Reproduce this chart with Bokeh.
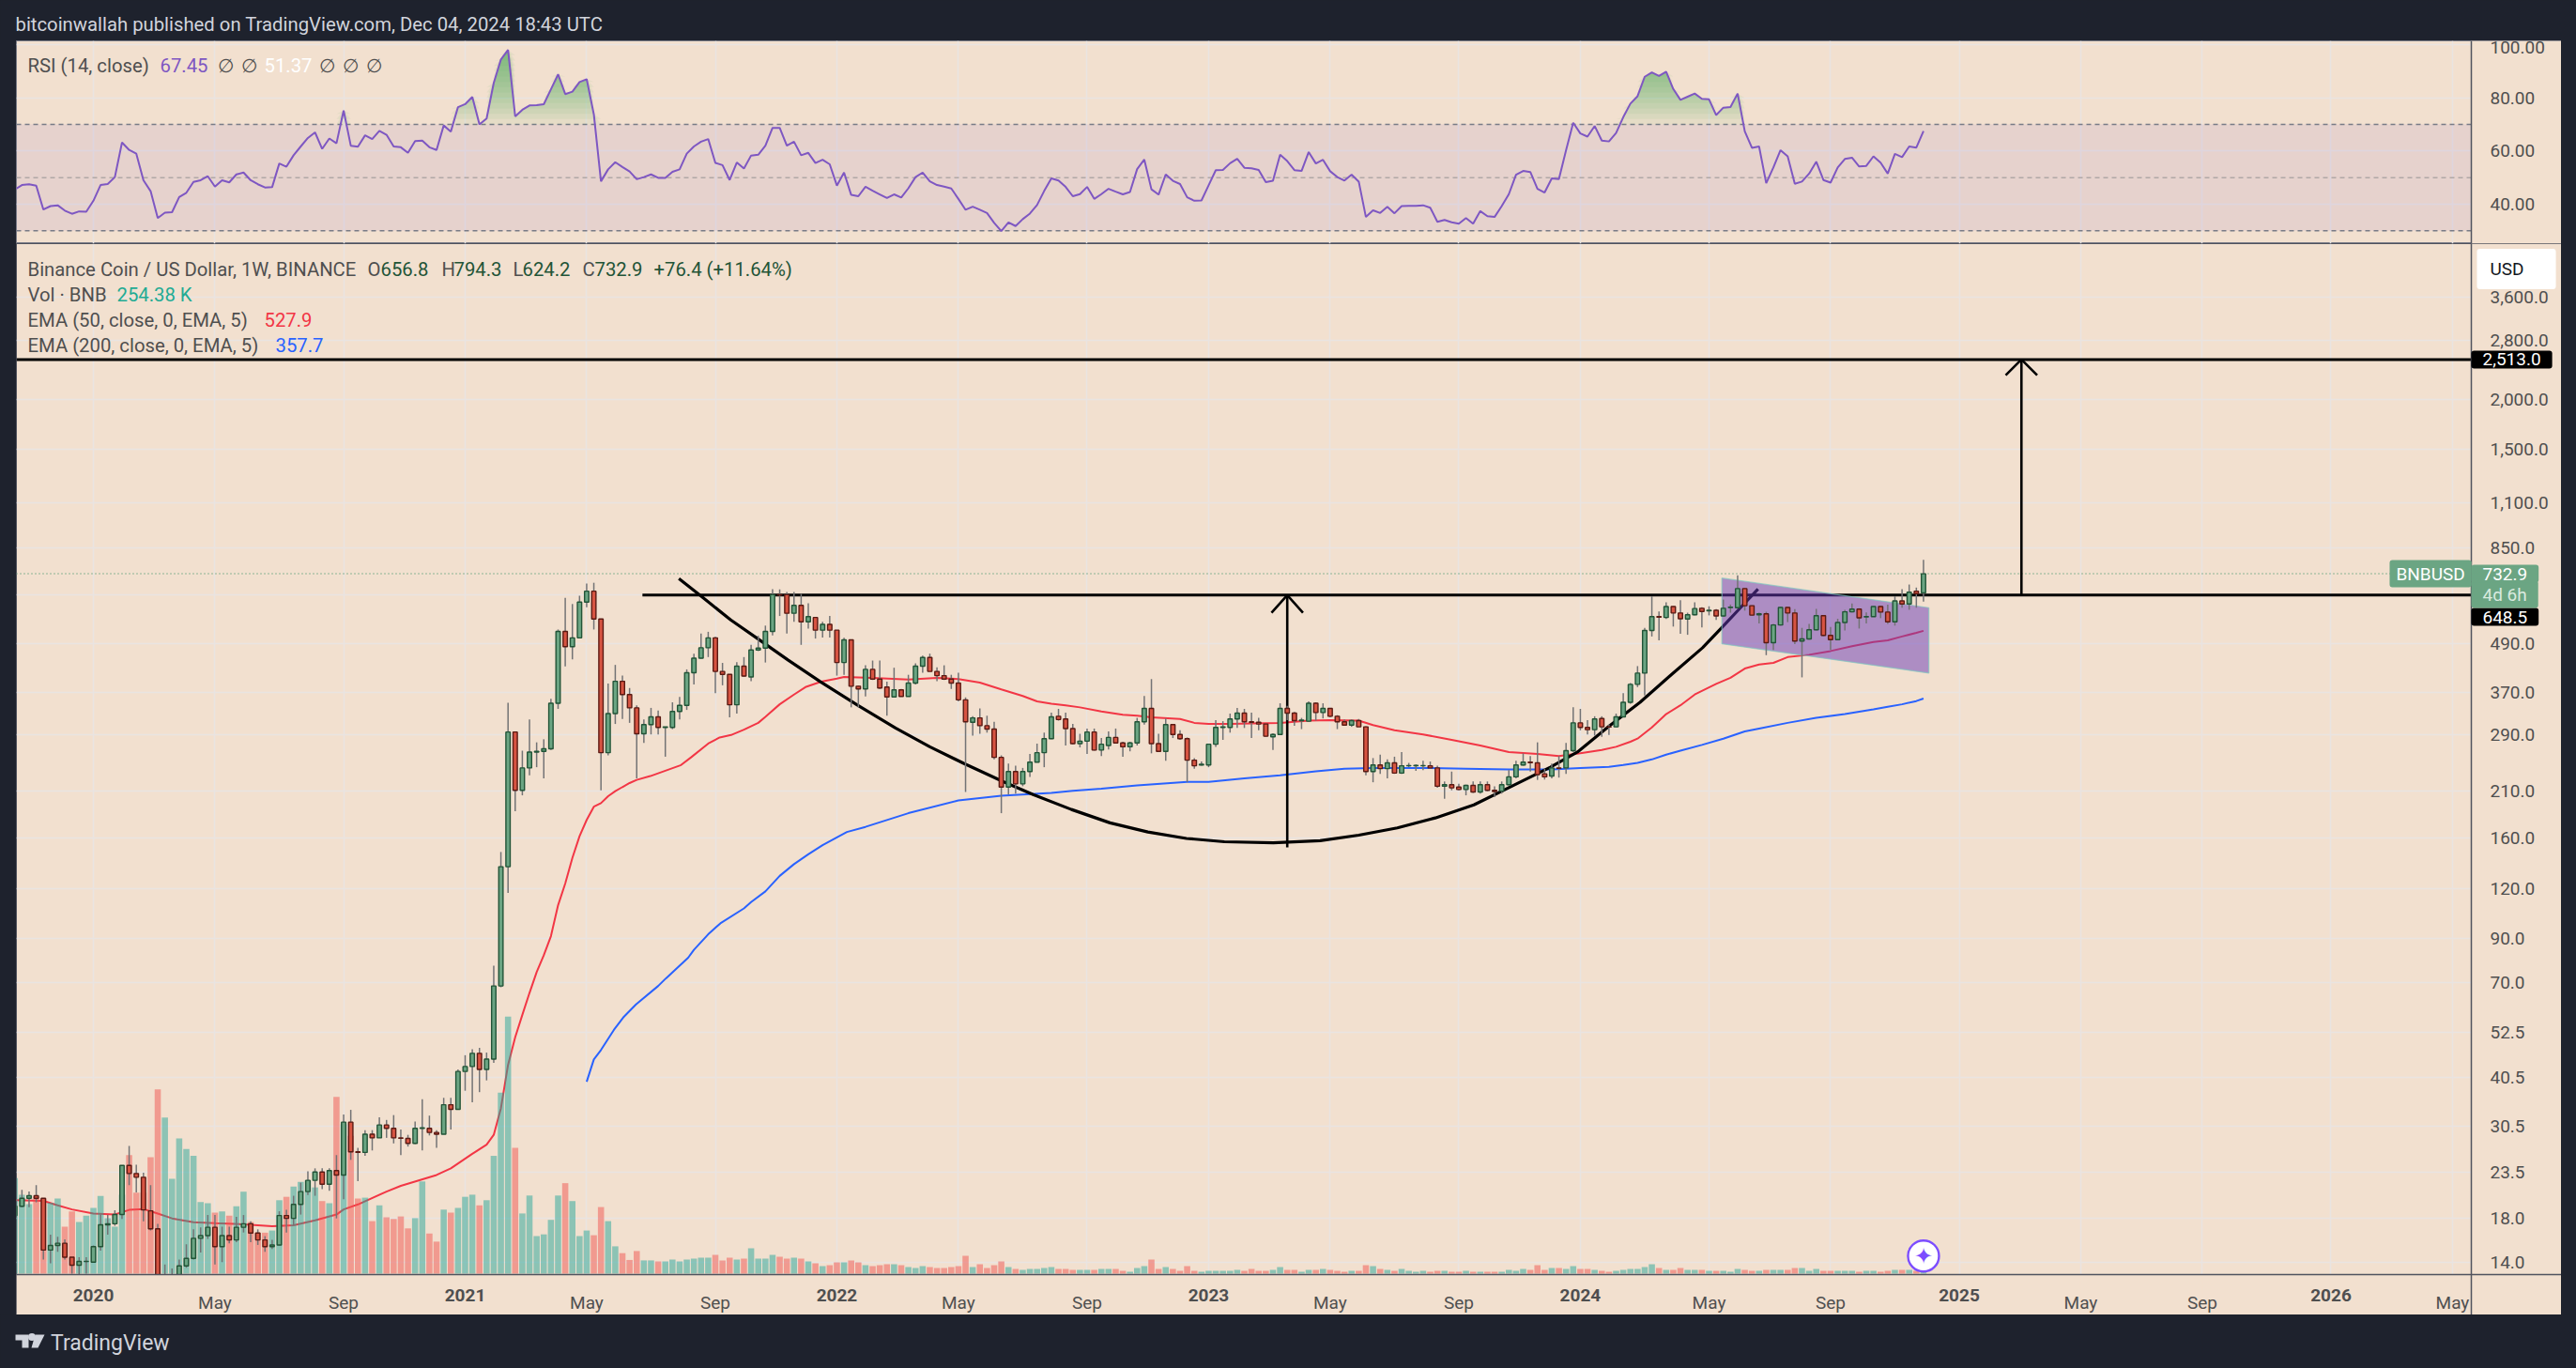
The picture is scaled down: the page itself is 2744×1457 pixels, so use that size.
import numpy as np
from bokeh.embed import file_html
from bokeh.resources import INLINE
from bokeh.layouts import column
from bokeh.models import FixedTicker, NumeralTickFormatter, Range1d, Label, Span, BoxAnnotation, LinearScale
from bokeh.plotting import figure
from bokeh.core.properties import value

# ---- weekly bars: bar 0 is the week of 2019-10-21 ----
opens = [18.3,19.3,20.2,20.5,20.2,15.0,15.4,15.6,14.4,13.75,
14.05,14.0,15.3,17.35,17.45,18.4,24.4,23.3,22.8,18.8,
16.95,10.5,11.8,12.5,13.7,14.3,16.05,16.3,17.1,15.3,
16.3,15.9,17.1,17.45,16.55,15.9,15.3,15.45,18.3,18.0,
19.5,21.0,22.4,23.5,21.9,23.7,23.1,31.3,26.4,26.3,
29.2,28.6,30.8,30.2,28.6,28.5,27.7,30.2,30.2,29.5,
29.2,34.6,33.7,41.9,43.1,46.5,42.4,45.0,68.5,136,
295,211,240,263,264,268,348,526,482,507,
623,663,565,262,328,395,366,339,292,308,
322,303,303,332,344,415,451,479,507,418,
411,345,431,405,473,478,526,650,650,584,
611,556,570,530,548,530,440,501,384,378,
423,400,382,361,376,362,391,431,453,418,
408,400,391,355,312,320,306,300,255,215,
235,219,235,248,262,284,323,318,301,276,
280,295,266,273,286,277,271,277,313,338,
276,264,308,291,284,251,244,244,275,303,
303,318,329,313,312,309,287,291,338,329,
315,314,348,330,338,323,313,307,315,304,
235,244,239,247,233,243,243,243,243,240,
216,218,215,212,217,209,218,211,210,218,
228,244,248,247,232,229,240,240,265,311,
303,299,319,304,304,322,350,388,414,529,
573,570,607,585,565,579,601,592,594,575,
604,603,673,610,579,582,493,546,604,585,
498,504,531,576,514,502,554,589,598,572,
573,607,588,556,627,616,663,656.8]
highs = [19.5,21.2,21.0,21.8,20.2,16.4,16.2,15.95,14.4,14.4,
14.4,15.4,18.4,18.35,18.85,24.4,27.3,24.5,23.4,21.8,
17.45,13.8,13.5,14.2,15.5,16.9,17.1,18.35,18.35,17.15,
17.15,18.15,18.35,17.7,16.9,16.25,15.9,18.75,18.9,20.5,
22.1,23.6,24.0,24.0,24.0,25.9,32.7,33.6,27.0,29.9,
29.9,32.2,31.7,32.6,30.0,29.1,31.4,35.7,32.5,29.9,
36.0,36.0,42.4,46.0,47.6,48.0,46.7,77.0,148,349,
296,265,317,278,283,357,532,638,616,646,
693,696,565,390,434,408,380,344,317,339,
334,304,350,361,423,463,520,525,510,439,
411,441,454,487,513,544,671,670,660,660,
653,619,572,556,575,530,507,502,385,433,
445,445,394,427,378,410,438,458,463,428,
433,410,415,360,323,338,324,313,258,246,
243,240,260,276,294,330,337,330,309,292,
301,301,285,296,301,279,279,320,363,400,
292,319,309,298,286,254,249,276,316,314,
328,339,337,330,320,310,293,348,343,331,
320,352,350,348,339,325,317,317,318,305,
254,259,252,256,263,247,245,250,249,243,
222,235,219,218,222,222,222,216,222,237,
250,261,257,278,239,246,257,277,340,337,
316,323,323,308,328,369,391,431,537,644,
590,622,608,630,586,622,605,608,598,632,
614,726,675,611,586,589,549,606,605,598,
537,549,599,578,540,566,596,618,601,587,
608,610,614,644,671,689,677,794.3]
lows = [18.2,19.2,19.2,19.75,14.2,13.9,14.85,14.2,13.1,13.05,
13.1,13.95,14.95,16.4,17.25,17.95,21.8,20.9,17.7,16.8,
9.0,9.5,11.0,12.0,13.55,14.2,14.8,16.0,13.8,14.0,
15.6,15.7,16.6,15.7,15.45,14.85,15.1,15.4,16.6,17.3,
18.4,20.6,20.5,21.3,21.1,18.0,20.1,25.2,22.3,25.8,
26.6,28.6,28.6,27.7,25.9,27.2,27.6,26.6,29.0,27.0,
29.2,30.0,33.6,37.5,35.1,37.2,39.8,44.0,68,117,
187,205,230,241,226,266,337,430,448,507,
605,532,211,258,309,318,311,226,277,291,
291,256,300,317,335,388,450,454,369,386,
321,328,405,395,470,440,514,575,520,556,
487,535,505,508,508,408,410,340,340,362,
398,378,324,360,362,362,388,415,418,395,
398,378,352,209,289,292,294,252,185,206,
207,216,228,248,241,283,315,273,275,270,
260,265,257,267,277,256,264,273,308,261,
263,250,285,282,221,239,243,241,271,282,
294,302,302,285,298,287,266,290,316,306,
300,313,315,319,321,300,306,304,304,230,
221,232,226,232,232,241,236,237,239,214,
201,211,211,205,208,207,210,203,207,217,
226,243,235,224,224.5,226,227,232,263,298,
291,289,287,290,303,322,347,382,364,511,
500,565,541,519,516,577,538,577,562,572,
586,600,593,577,551,459,473,544,555,489,
404,502,529,512,473,502,529,587,535,551,
572,568,549,544,603,596,603,624.2]
closes = [19.3,20.2,20.5,20.2,15.0,15.4,15.6,14.4,13.75,14.05,
14.06,15.3,17.35,17.45,18.4,24.4,23.3,22.8,18.9,16.95,
10.5,11.8,12.5,13.7,14.3,16.05,16.3,17.1,15.3,16.3,
15.9,17.1,17.45,16.55,15.9,15.3,15.45,18.3,18.0,19.5,
21.0,22.4,23.5,21.9,23.7,23.1,31.3,26.4,26.3,29.2,
28.6,30.8,30.2,28.6,28.55,27.7,30.2,30.3,29.5,29.2,
34.6,33.7,41.9,43.1,46.5,42.4,45.0,68.5,136,295,
211,240,263,264,268,348,526,482,507,623,
663,565,262,328,395,366,339,292,308,322,
303,304,332,344,415,451,479,507,418,411,
345,431,407,473,478,526,650,648,584,611,
556,573,530,548,530,440,501,384,378,423,
400,380,361,376,362,391,431,453,418,408,
400,391,355,313,320,306,300,255,215,235,
219,235,248,262,284,322,317,301,276,280,
295,266,275,286,277,271,277,313,338,276,
264,308,291,284,251,243,245,275,303,304,
318,329,313,312,309,288,291,338,329,315,
316,348,330,338,323,313,307,315,304,235,
244,239,247,233,243,243.2,243.5,243.2,240,216,
218,214,212,217,209,218,211,209.5,218,228,
244,248,247.5,231,228,240,239.5,265,311,303,
299,318,304,303.5,322,350,388,414,529,573,
571,607,585,566,579,600,590,594,575,601,
605,673,610,578,582,493,546,604,585,498,
504,531,576,514,502,554,589,598,569,573,
607,588,556,627,616,659,654,732.9]
volumes_m = [11.2,9.25,8.15,9.0,8.8,8.3,8.8,5.5,7.3,6.05,
6.8,7.7,9.1,6.5,5.5,9.25,13.9,9.5,9.5,13.65,
21.6,18.3,11.1,15.85,14.6,13.8,8.4,8.25,7.15,7.3,
6.8,7.9,9.6,6.05,4.8,4.8,5.05,8.6,9.0,10.2,
10.75,10.9,10.1,8.5,8.25,20.7,17.5,16.15,8.8,8.9,
6.15,8.0,6.6,6.4,6.7,5.3,6.5,10.8,4.7,3.75,
7.5,7.15,7.7,9.0,9.25,8.0,8.6,13.8,21.2,30.1,
14.75,7.05,9.15,4.4,4.6,6.3,9.15,10.6,8.5,4.4,
5.05,4.5,7.8,6.15,3.2,2.4,1.6,2.65,
1.55,1.55,1.43,1.43,1.65,1.43,1.65,1.76,1.87,1.87,
2.2,1.54,1.87,1.65,1.76,2.97,1.76,1.76,2.2,1.98,
1.76,1.87,1.76,1.43,1.21,.88,.99,1.32,1.32,1.54,
1.32,.99,.88,.99,1.1,1.1,.99,.77,.66,.88,
.77,.66,.66,.77,.88,2.09,.77,1.1,.66,.99,
1.43,.77,.55,.44,.55,.55,.66,.77,.55,.55,
.44,.44,.44,.44,.55,.55,.55,.33,.22,.66,
.88,1.65,.55,.77,.55,.33,.88,.33,.22,.33,
.33,.33,.33,.44,.33,.55,.33,.33,
.44,.77,.44,.44,.22,.44,.44,.55,.44,.33,
.22,.33,.33,.99,.88,.55,.44,.33,.55,.33,
.22,.33,.22,.33,.33,.22,.22,.33,.22,.22,
.22,.22,.22,.44,.33,.55,.44,.99,.44,.66,
.66,.55,.88,.55,.55,.44,.33,.22,.33,.44,
.55,.55,.77,1.1,.66,.44,.44,.66,.44,.44,
.44,.33,.33,.33,.22,.55,.44,.33,.33,.44,
.44,.44,.44,.66,.66,.33,.55,.33,.33,.33,
.33,.33,.22,.33,.33,.22,.33,.44,.44,.44,.33,.254]
rsi_values = [45.5,47.2,47.5,47,38,39.3,39.6,37.6,36.4,37.3,
37.2,41.3,47.2,47.6,50.2,63.2,60.4,59,49,44.9,
34.8,36.8,37,42.7,44.3,48.4,49,50.5,46.6,49,
48.2,51.2,51.9,49,47.5,46.3,46.4,55.3,54.1,58.4,
61.7,64.9,67,60.8,64.7,62.9,75.2,62,61.6,65.9,
64.5,67.6,66.1,61.7,61.4,59.3,63.7,63.9,61.4,60.4,
69.6,67.3,76.5,77.6,80.3,70,72.2,85.6,94.4,98,
73,75.5,77.1,77.2,77.6,83.2,88.8,81.4,82.3,85.9,
87,73.8,48.6,53.1,55.8,54,52.3,49.4,50.2,51.2,
49.9,49.9,52.2,53.1,59,61.7,63.5,64.5,55.5,54.7,
49.1,55.7,53.4,58.3,58.6,62,68.7,68.7,62,63.5,
58.4,59.3,55.5,56.7,55,47,51.9,43.5,43,46.6,
45.1,43.7,42.3,43.7,42.5,46,50.2,51.9,48.6,47.2,
46.6,45.9,42,37.9,39.1,37.9,36.7,33,29.9,33.2,
31.8,34.4,36.5,39.7,45,49.7,48.9,46.5,43,43.8,
46.5,42,43.8,45.8,44.7,43.7,44.6,53.2,56.8,45.6,
43.6,51.2,48.8,47.6,42.6,41.3,41.4,47.1,52.8,52.9,
55.4,57.1,53.7,53.5,52.9,48.3,48.8,58.6,56.2,52.8,
52.5,59.6,55.3,56.7,52.4,50.2,48.9,51.1,48.5,35.2,
37.7,36.7,39,36.6,39.3,39.4,39.4,39.6,38.7,33.4,
34.1,33.2,32.7,34.8,32.7,37.4,35.5,35.2,39.3,43.8,
51.1,52.5,52.1,45.8,44.4,49.7,49.4,60.3,70.6,66.6,
65.4,69.4,63.9,63.6,66.8,72.7,77.8,80.6,87.9,89.5,
88.2,89.8,83.3,79.2,80.4,81.6,79.6,79.4,73.5,76.3,
76.5,81.6,67.4,61.2,61.7,47.9,53.8,60.3,58,47.7,
48.5,51.5,56,49.1,48.1,53.8,57,57.5,54.2,54.4,
58,55.6,51.5,58.9,57.7,61.7,61.3,67.45]

ema50_weeks = [0,4,6,8,11,14,16,18,20,22,25,28,32,36,39,42,45,46,48,52,54,59,61,64,66,67,68,69,70,71,72,73,74,75,76,77,78,79,80,81,82,83,84,85,86,87,88.9,93.2,94.6,97,98.6,100.2,102,104,105,107,109,110.6,112.8,115,116,120,125,129,132,135,138,141,143,145,147,149,152,155,157,159,163,165,167,170,173,177,181,184,188,190,193,197,201,205,209,213,216,219,222,224,226,227,229,231,233,235,238,240,242,244,246,248,251,254,257,260,262,264,266,267]
ema50_values = [20,19.9,19.4,18.95,18.5,18.4,18.9,19,18.5,18,17.6,17.5,17.4,17.2,17.3,17.8,18.4,18.95,19.5,21,21.7,23.1,24,26.1,27.5,29.1,33.9,43.5,51,58,65.8,74.2,81.7,91.2,109,123.5,143,162,178,192,196,204,210,215,220,224,229,244,255,276,286,290,299,311,322,346,366,382,394,401,405,403,399,403,400,392,377,363,352,347,344,340,332,326,324,321,318,311,309,309,310,311,315,316,315,307,298,291,282,273,263,260,257,261,266,271,279,284,303,327,344,366,389,403,425,435,439,454,460,470,483,495,500,511,522,527.9]
ema200_weeks = [80,81,82,83.8,85.1,86.9,90,91.1,93,94.2,95,97,98.7,102,103,105,107,109,111,113,115,116.4,119,125,132,138,145,148,152,157,164,167,172,177,182,186,190,197,203,209,215,219,223,225,227,229,231,233,236,239,242,244,248,252,256,260,262,264,266,267]
ema200_values = [39.5,44.9,47.4,53.2,57.1,61.6,68.5,71.6,77,80.6,84.3,92.2,98.2,107,111,118,129,138,146,154,161,166,171,185,199,204.5,208,210.5,213,217,221.5,221.5,226,230,235.4,239,240,240,239,238,238,240,241.5,244,247,252,259,265,274,284,296,301,311,320,327,336,341,346,352.5,357.7]

cup_weeks = [92.9,95.9,100.15,103.9,108.2,112.7,117.8,123.2,128,132.8,138.2,142.45,147.8,153.2,158.5,163.9,169.2,176.05,182.6,188,193.4,198.7,204.1,209.4,214.8,218.6,223,227.35,231.7,236.1,238.7,241.4,243.85]
cup_prices = [713,647,562,505,446,394,345,302,271,246,222,206,189,175,166,160,157,156,158,163,170,180,194,216,241,263,305,350,410,479,536,603,671]
resistance = 648.5
target = 2513.0
resistance_start_week = 87.8
left_week, right_week = 0.23, 343.63      # left and right edge of the plotting area
gutter_week = 356.24                      # right edge of the price scale
pane_low, pane_floor, pane_high = 13.02, 10.33, 4892.0   # price at pane bottom, time-scale bottom, pane top
arrow1_week, arrow1_wing, arrow1_low, arrow1_wing_price = 178.0, 2.2, 152.0, 586.0
arrow2_week, arrow2_wing, arrow2_wing_price = 280.7, 2.2, 2296.0
flag_weeks = [238.8, 267.75, 267.75, 238.8]
flag_prices = [715, 603, 414, 490]
last_price = 732.9

price_ticks = [14,18,23.5,30.5,40.5,52.5,70,90,120,160,210,290,370,490,650,850,1100,1500,2000,2800,3600]
rsi_ticks = [40,60,80,100]
month_weeks = [28,46,80,98,132,150,184,202,237,254,289,306,341]
month_labels = ["May","Sep","May","Sep","May","Sep","May","Sep","May","Sep","May","Sep","May"]
year_weeks = [11,63,115,167,219,272,324]
year_labels = ["2020","2021","2022","2023","2024","2025","2026"]

BG = "#f2e0cf"; DARK = "#1e222d"; GRID = "#e9e4e1"; AXIS_LINE = "#50535e"
TXT = "#4f4f4f"; FONT = "Roboto"
UP, UP_B = "#6ba583", "#225437"
DN, DN_B = "#d75442", "#5b1a13"
WICK = "#737375"
FS = "19px"; LFS = "20.3px"

week = np.arange(len(closes))
o, h, l, c = map(np.array, (opens, highs, lows, closes))
x_range = Range1d(left_week, gutter_week)
all_ticks = sorted(month_weeks + year_weeks)
def week_at(px):
    return left_week + (px - 17) * (right_week - left_week) / (2632 - 17)

def style_grid(p):
    p.xgrid.ticker = FixedTicker(ticks=all_ticks)
    p.xgrid.grid_line_color = GRID; p.xgrid.grid_line_width = 1.5
    p.ygrid.grid_line_color = GRID; p.ygrid.grid_line_width = 1.5

def style_right_axis(ax):
    ax.fixed_location = right_week
    ax.major_tick_line_color = None; ax.minor_tick_line_color = None
    ax.axis_line_color = AXIS_LINE; ax.axis_line_width = 1.5
    ax.major_label_text_font = FONT; ax.major_label_text_font_size = FS
    ax.major_label_text_color = TXT; ax.major_label_standoff = 14

# ---------- header ----------
head = figure(width=2744, height=43, x_range=(0,1), y_range=(0,1), x_axis_location=None, y_axis_location=None,
              toolbar_location=None, output_backend="svg", min_border=0, outline_line_color=None,
              background_fill_color=DARK, border_fill_color=DARK)
head.grid.visible = False
head.add_layout(Label(x=16, y=18, x_units="screen", y_units="screen", text_baseline="middle",
    text="bitcoinwallah published on TradingView.com, Dec 04, 2024 18:43 UTC",
    text_color="#d1d4dc", text_font=FONT, text_font_size=LFS))

# ---------- RSI pane ----------
rsi = figure(width=2711, height=216, x_range=x_range, y_range=Range1d(25.18, 101.4), y_axis_location="right",
             x_axis_location=None, toolbar_location=None, output_backend="svg", min_border=0,
             background_fill_color=BG, border_fill_color=BG, outline_line_color="#787b86", margin=(0,0,0,17))
style_grid(rsi)
rsi.ygrid.ticker = FixedTicker(ticks=rsi_ticks)
ax = rsi.yaxis[0]; ax.ticker = FixedTicker(ticks=rsi_ticks)
ax.formatter = NumeralTickFormatter(format="0.00"); style_right_axis(ax)
rsi.add_layout(BoxAnnotation(bottom=30, top=70, fill_color="#7e57c2", fill_alpha=0.1, line_color=None, level="underlay"))
for lvl, col in ((70,"#787b86"),(50,"#b0a8a6"),(30,"#787b86")):
    rsi.add_layout(Span(location=lvl, dimension="width", line_color=col, line_dash="5 4", line_width=1.5, level="underlay"))
rv = np.array(rsi_values)
for t in range(70, 100, 2):
    rsi.varea(week, np.full(len(rv), t), np.maximum(rv, t), fill_color="#4caf50", fill_alpha=0.07)
rsi.line(week, rv, line_color="#7e57c2", line_width=2)
rsi.quad(left=[right_week], right=[gutter_week], bottom=[25.18], top=[101.4], fill_color=BG, line_color=None)
def rsi_lab(x, text, color):
    rsi.add_layout(Label(x=x-17, y=259-69, x_units="screen", y_units="screen", text=text, text_color=color,
                         text_font=FONT, text_font_size=LFS, text_baseline="middle"))
rsi_lab(29, "RSI (14, close)", TXT); rsi_lab(170, "67.45", "#7e57c2")
for px in (231, 256, 339, 364, 389):
    rsi_lab(px, "\u2205", TXT)
rsi_lab(281, "51.37", "#ffffff")

# ---------- main pane ----------
main = figure(width=2711, height=1141, x_range=x_range, y_axis_type="log", y_range=Range1d(pane_floor, pane_high),
              y_axis_location="right", toolbar_location=None, output_backend="svg", min_border=0,
              background_fill_color=BG, border_fill_color=BG, outline_line_color="#50535e", margin=(0,0,0,17))
style_grid(main)
main.ygrid.ticker = FixedTicker(ticks=price_ticks)
ax = main.yaxis[0]; ax.ticker = FixedTicker(ticks=price_ticks)
ax.formatter = NumeralTickFormatter(format="0,0.0"); style_right_axis(ax)
ax.major_label_overrides = {650: ""}
xa = main.xaxis[0]
xa.fixed_location = pane_low
xa.ticker = FixedTicker(ticks=month_weeks)
xa.major_label_overrides = {w: t for w, t in zip(month_weeks, month_labels)}
xa.major_tick_line_color = None; xa.minor_tick_line_color = None
xa.axis_line_color = AXIS_LINE; xa.axis_line_width = 1.5
xa.major_label_text_font = FONT; xa.major_label_text_font_size = FS
xa.major_label_text_color = TXT; xa.major_label_standoff = 12

main.add_layout(Span(location=last_price, dimension="width", line_color="#6ba583", line_dash="1 3", line_width=1.5, level="underlay"))
main.line(ema50_weeks, ema50_values, line_color="#f23645", line_width=2)
main.line(ema200_weeks, ema200_values, line_color="#2962ff", line_width=2)

# volume
main.extra_y_ranges = {"vol": Range1d(-4.84, 120.67)}
main.extra_y_scales = {"vol": LinearScale()}
vol_colors = ["#26a69a" if cc >= oo else "#ef5350" for oo, cc in zip(opens, closes)]
main.vbar(week, width=0.86, bottom=0, top=volumes_m, fill_color=vol_colors, fill_alpha=0.5, line_color=None, y_range_name="vol")

# drawings
main.line(cup_weeks, cup_prices, line_color="black", line_width=3.2)
main.line([resistance_start_week, right_week], [resistance, resistance], line_color="black", line_width=3)
main.line([left_week, right_week], [target, target], line_color="black", line_width=3)
main.multi_line(
    [[arrow1_week, arrow1_week], [arrow1_week-arrow1_wing, arrow1_week, arrow1_week+arrow1_wing],
     [arrow2_week, arrow2_week], [arrow2_week-arrow2_wing, arrow2_week, arrow2_week+arrow2_wing]],
    [[arrow1_low, resistance], [arrow1_wing_price, resistance, arrow1_wing_price],
     [resistance, target], [arrow2_wing_price, target, arrow2_wing_price]],
    line_color="black", line_width=2.6)
main.patch(flag_weeks, flag_prices, fill_color="#673ab7", fill_alpha=0.5, line_color="#80c8c0", line_width=1.2, line_alpha=0.7)

# candles
up = c >= o
main.segment(week[up], l[up], week[up], h[up], line_color=WICK, line_width=1.5)
main.segment(week[~up], l[~up], week[~up], h[~up], line_color=WICK, line_width=1.5)
main.vbar(week[up], width=0.6, bottom=o[up], top=c[up], fill_color=UP, line_color=UP_B, line_width=1.4)
main.vbar(week[~up], width=0.6, bottom=c[~up], top=o[~up], fill_color=DN, line_color=DN_B, line_width=1.4)

# the price and time scales sit over whatever runs past the plotting area
main.quad(left=[right_week], right=[gutter_week], bottom=[pane_floor], top=[pane_high], fill_color=BG, line_color=None)
main.quad(left=[left_week], right=[gutter_week], bottom=[pane_floor], top=[pane_low], fill_color=BG, line_color=None)

for w, t in zip(year_weeks, year_labels):
    main.add_layout(Label(x=w, y=11.56, text=t, text_align="center", text_baseline="middle",
                          text_color=TXT, text_font=FONT, text_font_size=FS, text_font_style="bold"))

# legend text
def leg(x, ypage, text, color, size=LFS):
    main.add_layout(Label(x=x-17, y=1400-ypage, x_units="screen", y_units="screen", text=text, text_color=color,
                          text_font=FONT, text_font_size=size, text_baseline="middle"))
DG = "#225437"
leg(29, 286, "Binance Coin / US Dollar, 1W, BINANCE", TXT)
leg(391, 286, "O", TXT); leg(405, 286, "656.8", DG)
leg(470, 286, "H", TXT); leg(483, 286, "794.3", DG)
leg(546, 286, "L", TXT); leg(556, 286, "624.2", DG)
leg(620, 286, "C", TXT); leg(633, 286, "732.9", DG)
leg(696, 286, "+76.4 (+11.64%)", DG)
leg(29, 313, "Vol \u00b7 BNB", TXT); leg(124, 313, "254.38 K", "#22ab94")
leg(29, 340, "EMA (50, close, 0, EMA, 5)", TXT); leg(281, 340, "527.9", "#f23645")
leg(29, 367, "EMA (200, close, 0, EMA, 5)", TXT); leg(293, 367, "357.7", "#2962ff")

# price tags on the axis (black 648.5 tag sits just under the live-price tag, as in the chart)
def tag(px, y, text, bg, fg="#ffffff", pad=(12, 3)):
    main.add_layout(Label(x=week_at(px), y=y, text=text, text_color=fg, text_font=FONT, text_font_size=FS,
                          text_baseline="middle", background_fill_color=bg, padding=pad, border_radius=3))
tag(2632, target, "2,513.0", "#000000")
tag(2632, 572, "648.5", "#000000")
tag(2545, last_price, "BNBUSD", "#6ba583", pad=(7, 3))
tag(2632, 651, "4d 6h", "#6ba583", fg="#d9eadf")
tag(2632, last_price, "732.9", "#6ba583")
tag(2638, 4228, "USD", "#ffffff", fg="#131722", pad=(14, 34, 10, 10))

# assistant star on the last bar
main.scatter([week[-1]], [14.5], marker="circle", size=33, fill_color="white", line_color="#7c4dff", line_width=2.4)
main.text([week[-1]], [14.5], text=["\u2726"], text_color="#7c4dff", text_align="center", text_baseline="middle",
          text_font=value("DejaVu Sans"), text_font_size="24px")

# ---------- footer ----------
foot = figure(width=2744, height=57, x_range=(0,2744), y_range=(0,57), x_axis_location=None, y_axis_location=None,
              toolbar_location=None, output_backend="svg", min_border=0, outline_line_color=None,
              background_fill_color=DARK, border_fill_color=DARK)
foot.grid.visible = False
foot.patch([16,30,30,23,23,16], [36,36,22,22,30,30], fill_color="#d1d4dc", line_color=None)
foot.scatter([33.5],[33.5], size=8, marker="circle", fill_color="#d1d4dc", line_color=None)
foot.patch([37,47,40,33], [36,36,22,22], fill_color="#d1d4dc", line_color=None)
foot.add_layout(Label(x=53.5, y=27, x_units="screen", y_units="screen", text="TradingView", text_color="#d1d4dc",
                      text_font=FONT, text_font_size="23px", text_baseline="middle"))

page = column(head, rsi, main, foot, spacing=0)
html = file_html(page, INLINE).replace("</head>", "<style>html,body{background:#1e222d}</style></head>")
open("out.html", "w").write(html)
